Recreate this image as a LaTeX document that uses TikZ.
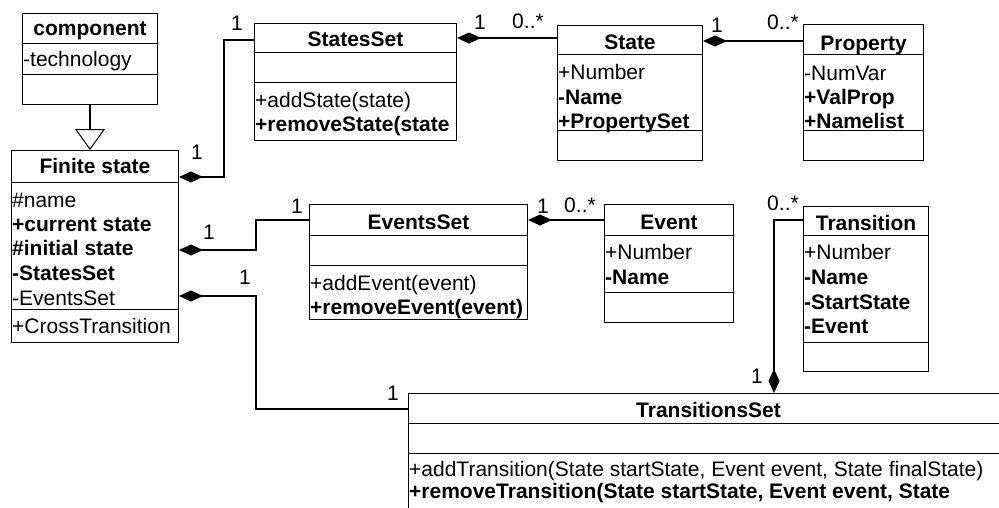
\documentclass[tikz,border=0pt]{standalone}
\usepackage{fontspec}
\setmainfont{Liberation Sans}
\usetikzlibrary{arrows.meta}

\begin{document}
\begin{tikzpicture}[x=1pt,y=-1pt,
  every node/.style={font=\fontsize{21}{24}\selectfont},
  cls/.style n args={2}{draw,line width=1pt,minimum width=#1pt,minimum height=#2pt,anchor=north west,inner sep=0pt},
  ttl/.style={inner sep=0pt,text height=15pt,text depth=0pt,font=\fontsize{21}{24}\selectfont\bfseries},
  attr/.style={anchor=west,xshift=1pt,inner sep=0pt,text height=15pt,text depth=0pt},
  lbl/.style={inner sep=0pt,text height=15pt,text depth=0pt},
  div/.style={line width=1pt},
  link/.style={line width=2pt},
  compo/.style={link,{Diamond[length=24pt,width=11pt]}-},
  gen/.style={link,-{Triangle[open,length=21pt,width=30pt,line width=1pt]}}]
\clip (0,0) rectangle (999,507);
% class boxes
\node[cls={135}{91}] (component) at (22,13) {};
\node[cls={167}{192}] (finite) at (11,150) {};
\node[cls={202}{117}] (statesset) at (254,23) {};
\node[cls={145}{135}] (state) at (557,25) {};
\node[cls={120}{136}] (property) at (803,24) {};
\node[cls={218}{115}] (eventsset) at (309,204) {};
\node[cls={129}{118}] (event) at (604,204) {};
\node[cls={125}{165}] (transition) at (803,206) {};
\node[cls={600}{130}] (transset) at (408,393) {};
\foreach \n/\y in {component/43,component/74,finite/182,finite/309,
  statesset/52,statesset/82,state/54,state/130,property/54,property/130,
  eventsset/235,eventsset/265,event/235,event/292,transition/235,
  transition/342,transset/423,transset/453} {
   \draw[div] (\n.west |- 0,\y) -- (\n.east |- 0,\y);
}
\foreach \n/\y/\t in {component/28/component,finite/166/Finite state,
  statesset/39/StatesSet,state/42/State,property/43/Property,
  eventsset/222/EventsSet,event/222/Event,transition/223/Transition,
  transset/410/TransitionsSet} {
   \node[ttl] (\n-title) at (\n.north |- 0,\y) {\t};
}
% attributes and operations
\foreach \n/\y/\t in {component/59/-technology,
  finite/200/\#name,finite/224/\textbf{+current state},
  finite/248/\textbf{\#initial state},finite/273/\textbf{-StatesSet},
  finite/298/-EventsSet,finite/326/+CrossTransition,
  statesset/100/+addState(state),statesset/124/\textbf{+removeState(state},
  state/72/+Number,state/97/\textbf{-Name},state/121/\textbf{+PropertySet},
  property/73/-NumVar,property/97/\textbf{+ValProp},property/121/\textbf{+Namelist},
  eventsset/283/+addEvent(event),eventsset/307/\textbf{+removeEvent(event)},
  event/252/+Number,event/277/\textbf{-Name},
  transition/252/+Number,transition/277/\textbf{-Name},
  transition/302/\textbf{-StartState},transition/326/\textbf{-Event},
  transset/469/{+addTransition(State startState, Event event, State finalState)},
  transset/491/{\textbf{+removeTransition(State startState, Event event, State}}} {
   \node[attr] (\n-\y) at (\n.west |- 0,\y) {\t};
}
% associations
\draw[gen] (component.south) -- (finite.north -| component.south);
\draw[compo] (finite.east |- 0,177) -- ++(45,0) |- (statesset.west |- 0,40);
\draw[compo] (statesset.east |- 0,38) -- (state.west |- 0,38);
\draw[compo] (state.east |- 0,41) -- (property.west |- 0,41);
\draw[compo] (finite.east |- 0,250) -- ++(77,0) |- (eventsset.west |- 0,220);
\draw[compo] (eventsset.east |- 0,220) -- (event.west |- 0,220);
\draw[compo] (finite.east |- 0,296) -- ++(77,0) |- (transset.west |- 0,409);
\draw[compo] (transset.north -| 774,0) |- (transition.west |- 0,220);
% multiplicities
\foreach \x/\y/\t [count=\i] in {197/152/1,237/23/1,480/22/1,528/21/0..*,
  717/25/1,783/22/0..*,209/232/1,297/206/1,543/206/1,580/205/0..*,
  245/277/1,393/393/1,783/203/0..*,757/376/1} {
   \node[lbl] (mult\i) at (\x,\y) {\t};
}
\end{tikzpicture}
\end{document}
